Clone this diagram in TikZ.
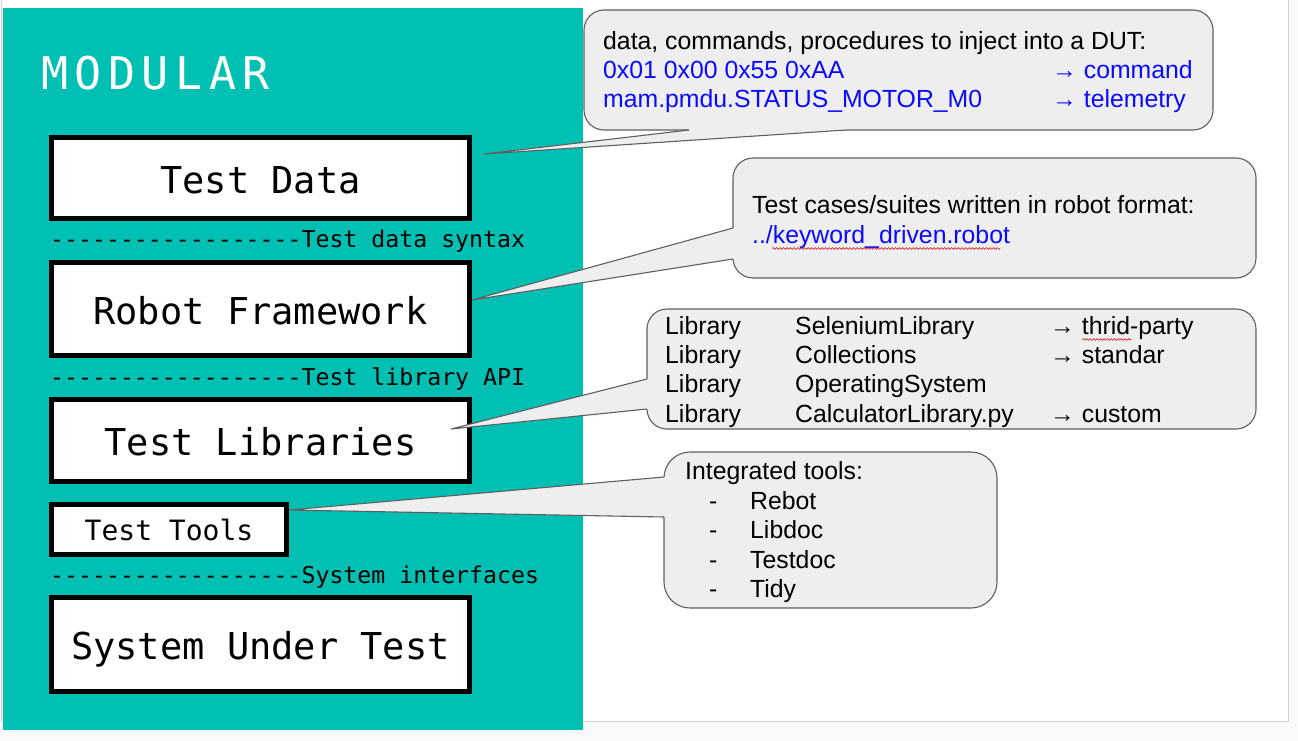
\documentclass[tikz,border=0pt]{standalone}
\usepackage{fontspec}
\setmainfont{Liberation Sans}
\newfontfamily\monofont{DejaVu Sans Mono}
\newfontfamily\titlefont[LetterSpace=14.4]{DejaVu Sans Mono}
\usetikzlibrary{decorations.pathmorphing}
\definecolor{tealbg}{RGB}{0,191,179}
\definecolor{bubblefill}{RGB}{238,238,238}
\definecolor{bubbleline}{RGB}{95,95,95}
\definecolor{linkblue}{RGB}{10,10,255}
\definecolor{pagegrey}{RGB}{248,249,250}
\definecolor{pageedge}{RGB}{208,210,214}
\def\dd{-\kern0pt-\kern0pt}
\def\dashrun{\dd\dd\dd\dd\dd\dd\dd\dd\dd}
\begin{document}
\begin{tikzpicture}[x=1pt,y=-1pt,
  layer/.style={draw=black, line width=5pt, fill=white, inner sep=0pt,
    text height=30pt, text depth=0pt, font=\monofont\fontsize{37}{37}\selectfont},
  smalllayer/.style={layer, text height=22pt, font=\monofont\fontsize{28}{28}\selectfont},
  sepl/.style={anchor=base west, inner sep=0pt, font=\monofont\fontsize{23.2}{23.2}\selectfont},
  titletxt/.style={anchor=base west, inner sep=0pt, text=white, font=\titlefont\fontsize{45}{45}\selectfont},
  txt/.style={anchor=base west, inner sep=0pt, font=\fontsize{24.8}{29}\selectfont},
  bluetxt/.style={txt, text=linkblue},
  bubble/.style={fill=bubblefill, draw=bubbleline, line width=1.1pt},
  wedge/.style={draw=bubbleline, line width=1.1pt, line join=miter},
  spell/.style={draw=red!80!black, line width=0.6pt, decorate,
    decoration={snake, amplitude=0.9pt, segment length=3.5pt}}
]
\useasboundingbox (0,0) rectangle (1298,741);
\fill[pagegrey] (0,0) rectangle (1298,741);
\draw[pageedge, fill=white, line width=1pt] (1.5,-3) rectangle (1288,721);
\fill[tealbg] (3,8) rectangle (583,730);

% title
\node[titletxt] (title) at (41,90) {MODULAR};

% layers
\node[layer, minimum width=418pt, minimum height=81pt] (td) at (260.5,178) {Test Data};
\node[layer, minimum width=418pt, minimum height=93pt] (rf) at (260.5,309) {Robot Framework};
\node[layer, minimum width=418pt, minimum height=82pt] (tl) at (260.5,440.5) {Test Libraries};
\node[smalllayer, minimum width=235pt, minimum height=50pt] (tt) at (169,529.5) {Test Tools};
\node[layer, minimum width=418pt, minimum height=94pt] (sut) at (260.5,644.5) {System Under Test};

% separators
\node[sepl] (s1) at (50,247) {\dashrun Test data syntax};
\node[sepl] (s2) at (50,385) {\dashrun Test library API};
\node[sepl] (s3) at (50,583) {\dashrun System interfaces};

% callout 1
\draw[bubble, rounded corners=20pt] (584,10) rectangle (1213,130);
\coordinate (c1tip) at (484,154);
\coordinate (c1b1) at (689,130);
\coordinate (c1b2) at (846,130);
\fill[bubblefill] (c1tip) -- (c1b1) -- (689,126) -- (846,126) -- (c1b2) -- cycle;
\draw[wedge] (c1b1) -- (c1tip) -- (c1b2);
\node[txt] (c1a) at (603,50) {data, commands, procedures to inject into a DUT:};
\node[bluetxt] (c1b) at (603,79) {0x01 0x00 0x55 0xAA};
\node[bluetxt] (c1c) at (1052,79) {→ command};
\node[bluetxt] (c1d) at (603,108) {mam.pmdu.STATUS\_MOTOR\_M0};
\node[bluetxt] (c1e) at (1052,108) {→ telemetry};

% callout 2
\draw[bubble, rounded corners=20pt] (733,158) rectangle (1256,278);
\coordinate (c2tip) at (472,300);
\coordinate (c2b1) at (733,228);
\coordinate (c2b2) at (733,259);
\fill[bubblefill] (c2tip) -- (c2b1) -- (737,228) -- (737,259) -- (c2b2) -- cycle;
\draw[wedge] (c2b1) -- (c2tip) -- (c2b2);
\node[txt] (c2a) at (752,213) {Test cases/suites written in robot format:};
\node[bluetxt] (c2b) at (752,243) {../keyword\_driven.robot};
\draw[spell] (772,248.5) -- (1000,248.5);

% callout 3
\draw[bubble, rounded corners=20pt] (647,309) rectangle (1256,429);
\coordinate (c3tip) at (451,429);
\coordinate (c3b1) at (647,379);
\coordinate (c3b2) at (647,409);
\fill[bubblefill] (c3tip) -- (c3b1) -- (651,379) -- (651,409) -- (c3b2) -- cycle;
\draw[wedge] (c3b1) -- (c3tip) -- (c3b2);
\node[txt] (l1a) at (665,334) {Library};
\node[txt] (l1b) at (795,334) {SeleniumLibrary};
\node[txt] (l1c) at (1050,334) {→ thrid-party};
\node[txt] (l2a) at (665,363) {Library};
\node[txt] (l2b) at (795,363) {Collections};
\node[txt] (l2c) at (1050,363) {→ standar};
\node[txt] (l3a) at (665,392) {Library};
\node[txt] (l3b) at (795,392) {OperatingSystem};
\node[txt] (l4a) at (665,422) {Library};
\node[txt] (l4b) at (795,422) {CalculatorLibrary.py};
\node[txt] (l4c) at (1050,422) {→ custom};
\draw[spell] (1082,339.5) -- (1131,339.5);

% callout 4
\draw[bubble, rounded corners=26pt] (664,452) rectangle (997,608);
\coordinate (c4tip) at (289,510);
\coordinate (c4b1) at (664,477);
\coordinate (c4b2) at (664,517);
\fill[bubblefill] (c4tip) -- (c4b1) -- (668,477) -- (668,517) -- (c4b2) -- cycle;
\draw[wedge] (c4b1) -- (c4tip) -- (c4b2);
\node[txt] (t0) at (685,479) {Integrated tools:};
\node[txt] (d1) at (709,509) {-};
\node[txt] (t1) at (750,509) {Rebot};
\node[txt] (d2) at (709,538) {-};
\node[txt] (t2) at (750,538) {Libdoc};
\node[txt] (d3) at (709,568) {-};
\node[txt] (t3) at (750,568) {Testdoc};
\node[txt] (d4) at (709,597) {-};
\node[txt] (t4) at (750,597) {Tidy};
\end{tikzpicture}
\end{document}
